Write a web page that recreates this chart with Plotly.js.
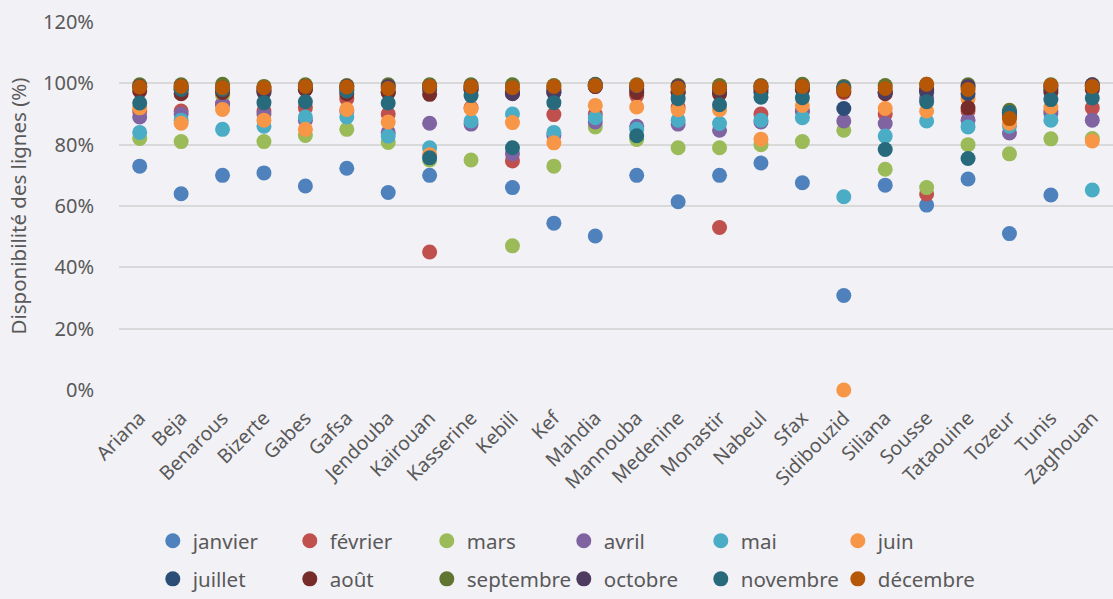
<!DOCTYPE html>
<html>
<head>
<meta charset="utf-8">
<script src="https://cdn.plot.ly/plotly-3.0.1.min.js"></script>
<style>
html,body{margin:0;padding:0;background:#F2F1F6;}
#chart{width:1113px;height:599px;}
</style>
</head>
<body>
<div id="chart"></div>
<script>
const categories = ["Ariana","Beja","Benarous","Bizerte","Gabes","Gafsa","Jendouba","Kairouan","Kasserine","Kebili","Kef","Mahdia","Mannouba","Medenine","Monastir","Nabeul","Sfax","Sidibouzid","Siliana","Sousse","Tataouine","Tozeur","Tunis","Zaghouan"];

const months = ["janvier","février","mars","avril","mai","juin","juillet","août","septembre","octobre","novembre","décembre"];

const colors = ["#4F81BD","#C0504D","#9BBB59","#8064A2","#4BACC6","#F79646","#2C4D75","#772C2A","#5F7530","#4D3B62","#276A7C","#B65708"];

const janvier   = [73, 64, 70, 70.8, 66.5, 72.3, 64.4, 70, null, 66, 54.4, 50.2, 70, 61.4, 70, 74, 67.6, 30.8, 66.8, 60.3, 68.8, 51, 63.6, null];
const fevrier   = [91, 91, 93.4, 91, 92, 95, 90, 45, 92, 74.7, 89.8, 90, 96, 92.3, 53, 90, 91, 97, 90, 63.9, 91, 89, 91, 92];
const mars      = [82, 81, 96, 81, 83, 85, 80.7, 75, 75, 47, 73, 85.8, 81.7, 79, 79, 80, 81, 84.7, 72, 66, 80, 77, 81.9, 82];
const avril     = [89, 90, 93, 90, 88, 91, 84, 87, 86.7, 77, 83, 87.4, 86, 86.7, 84.7, 87.4, 91, 87.7, 86.9, 95, 88, 83.8, 90.2, 88];
const mai       = [84, 88, 85, 86, 89, 89, 82.8, 79, 87.7, 90, 84, 88.8, 85, 88, 86.9, 88, 88.8, 63, 82.8, 87.7, 85.8, 86, 88, 65.2];
const juin      = [92, 87, 91.5, 88, 85, 91.5, 87.4, 76.7, 91.7, 87.2, 80.6, 92.8, 92.3, 91.4, 91.4, 81.8, 92.8, 0, 91.8, 91, 95, 87, 92.3, 81.2];
const juillet   = [99, 98, 98, 97, 98, 98, 97, 98, 98, 97, 97, 99, 98, 97, 97, 97, 98, 91.8, 97, 97, 96.6, 90.5, 98, 99];
const aout      = [97.5, 96.6, 97, 97.5, 98, 96.6, 97, 96.4, 98, 96.8, 98, 99, 97, 97, 96.5, 98, 98, 97.5, 96.6, 98, 92, 90.5, 97, 98];
const septembre = [99.5, 99.5, 99.7, 99, 99.5, 99.3, 99.5, 99.5, 99.5, 99.5, 99.3, 99.7, 99.5, 99.3, 99.3, 99.3, 99.7, 99, 99.3, 99.7, 99.5, 91.2, 99.5, 99.5];
const octobre   = [99, 99, 98.5, 98, 99, 99, 99, 99, 99, 96.6, 97, 99.5, 99, 99, 98, 99, 99, 98.5, 97, 97.7, 99, 90, 99, 99.5];
const novembre  = [93.6, 98, 98, 93.7, 94, 97.5, 93.6, 75.7, 96, 79, 93.7, 99.5, 82.9, 95, 93, 95.5, 95.3, 98.5, 78.4, 94, 75.5, 90.5, 94.7, 95.2];
const decembre  = [98.8, 99, 98.6, 98.6, 99, 98.8, 98.3, 99, 99, 98.6, 99, 99.3, 99.3, 98.5, 98.5, 99, 99, 97.8, 98.3, 99.7, 98, 88.5, 99.3, 99];

const series = [janvier, fevrier, mars, avril, mai, juin, juillet, aout, septembre, octobre, novembre, decembre];

const tickVals = [0, 20, 40, 60, 80, 100, 120];
const tickText = ["0%", "20%", "40%", "60%", "80%", "100%", "120%"];

const fontFam = "'Noto Sans', 'Open Sans', sans-serif";
const grey = "#595959";

const traces = series.map((vals, i) => ({
  type: "scatter",
  mode: "markers",
  name: months[i],
  x: categories,
  y: vals,
  cliponaxis: false,
  legend: i < 6 ? "legend" : "legend2",
  marker: {color: colors[i], size: 15, line: {width: 0}},
  hoverinfo: "x+y+name"
}));

const legendCommon = {
  orientation: "h",
  xanchor: "left",
  yanchor: "middle",
  entrywidth: 92,
  entrywidthmode: "pixels",
  itemwidth: 30,
  bgcolor: "rgba(0,0,0,0)",
  font: {family: fontFam, size: 20.5, color: grey}
};

const layout = {
  width: 1113,
  height: 599,
  margin: {l: 119, r: 0, t: 22, b: 209},
  paper_bgcolor: "#F2F1F6",
  plot_bgcolor: "#F2F1F6",
  font: {family: fontFam, color: grey},
  showlegend: true,
  legend: Object.assign({}, legendCommon, {x: 0.034, y: -0.41}),
  legend2: Object.assign({}, legendCommon, {x: 0.034, y: -0.514}),
  xaxis: {
    type: "category",
    categoryorder: "array",
    categoryarray: categories,
    range: [-0.5, 23.5],
    showgrid: false,
    zeroline: false,
    showline: false,
    tickangle: -45,
    ticks: "outside",
    ticklen: 8,
    tickcolor: "rgba(0,0,0,0)",
    tickfont: {family: fontFam, size: 19.5, color: grey},
    fixedrange: true
  },
  yaxis: {
    range: [0, 120],
    tickvals: tickVals,
    ticktext: tickText,
    showgrid: true,
    gridcolor: "#D9D9D9",
    gridwidth: 1.5,
    zeroline: false,
    showline: false,
    ticks: "outside",
    ticklen: 20,
    tickcolor: "rgba(0,0,0,0)",
    tickfont: {family: fontFam, size: 20, color: grey},
    title: {text: "Disponibilité des lignes (%)", font: {family: fontFam, size: 20.5, color: grey}, standoff: 10},
    fixedrange: true
  }
};

Plotly.newPlot("chart", traces, layout, {displayModeBar: false, staticPlot: false});
</script>
</body>
</html>
